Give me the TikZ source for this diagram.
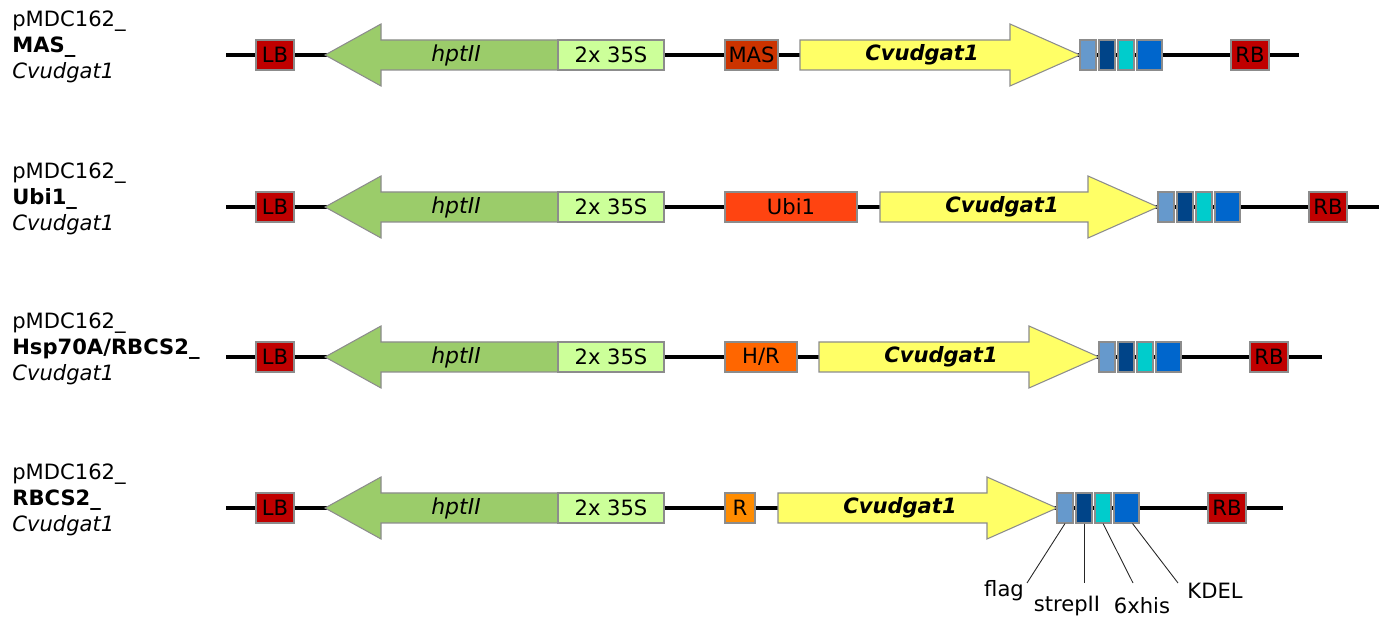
\documentclass[tikz,border=0pt]{standalone}
\usepackage{fontspec}
\setmainfont{DejaVu Sans}

\definecolor{bordergray}{HTML}{8C8C8C}
\definecolor{lbred}{HTML}{C00000}
\definecolor{hptgreen}{HTML}{9BCC6A}
\definecolor{promgreen}{HTML}{CCFF99}
\definecolor{masred}{HTML}{CC3300}
\definecolor{ubired}{HTML}{FF4411}
\definecolor{hrorange}{HTML}{FF6600}
\definecolor{rorange}{HTML}{FF8C00}
\definecolor{geneyellow}{HTML}{FFFF66}
\definecolor{flagblue}{HTML}{6699CC}
\definecolor{strepblue}{HTML}{004488}
\definecolor{hiscyan}{HTML}{00CCCC}
\definecolor{kdelblue}{HTML}{0066CC}

\begin{document}
\begin{tikzpicture}[x=0.02cm, y=-0.02cm, font=\fontsize{12}{14.7}\selectfont,
    part/.style={draw=bordergray, line width=0.6pt, inner sep=0pt, minimum height=30*0.02cm, font=\fontsize{12}{12}\selectfont},
    tagbox/.style={draw=bordergray, line width=0.6pt, inner sep=0pt, minimum height=30*0.02cm, minimum width=16*0.02cm},
    genearrow/.style={draw=bordergray, line width=0.6pt},
    backbone/.style={line width=1.9pt},
    leader/.style={line width=0.5pt, draw=black!85}]
    \useasboundingbox (0,0) rectangle (1379,617);
    \foreach \y/\r/\lend/\pend/\ptxt/\pcol/\gs/\tip/\mid in {
        55/a/1299/778/MAS/masred/800/1080/MAS,
        207/b/1379/857/Ubi1/ubired/880/1158/Ubi1,
        357/c/1322/797/{H/R}/hrorange/819/1099/{Hsp70A/RBCS2},
        508/d/1283/755/R/rorange/778/1057/RBCS2}{
        \coordinate (start\r) at (226,\y);
        \coordinate (end\r) at (\lend,\y);
        \draw[backbone] (start\r) -- (end\r);
        \node[anchor=west, align=left, inner sep=0pt] (name\r) at (12,\y-8) {pMDC162\_\\\textbf{\mid\_}\\\textit{Cvudgat1}};
        \node[part, fill=lbred, minimum width=38*0.02cm] (lb\r) at (275,\y) {LB};
        % hptII points to the left
        \filldraw[genearrow, fill=hptgreen] (325,\y) -- (381,\y-31) -- (381,\y-15) -- (558,\y-15) -- (558,\y+15) -- (381,\y+15) -- (381,\y+31) -- cycle;
        \node[font=\itshape\fontsize{12.5}{13}\selectfont] (hpt\r) at (456,\y) {hptII};
        \node[part, fill=promgreen, minimum width=106*0.02cm] (ss\r) at (611,\y) {2x 35S};
        \node[part, fill=\pcol, minimum width={(\pend-725)*0.02cm}] (prom\r) at ({(725+\pend)/2},\y) {\ptxt};
        % gene
        \filldraw[genearrow, fill=geneyellow] (\gs,\y-15) -- (\tip-70,\y-15) -- (\tip-70,\y-31) -- (\tip,\y) -- (\tip-70,\y+31) -- (\tip-70,\y+15) -- (\gs,\y+15) -- cycle;
        \node[font=\bfseries\itshape\fontsize{12}{13}\selectfont] (gene\r) at (\gs+122,\y) {Cvudgat1};
        \node[tagbox, fill=flagblue] (flag\r) at (\tip+8,\y) {};
        \node[tagbox, fill=strepblue] (strep\r) at (\tip+27,\y) {};
        \node[tagbox, fill=hiscyan] (his\r) at (\tip+46,\y) {};
        \node[tagbox, fill=kdelblue, minimum width=25*0.02cm] (kdel\r) at (\tip+69.5,\y) {};
        \node[part, fill=lbred, minimum width=38*0.02cm] (rb\r) at (\tip+170,\y) {RB};
    }
    % tag labels, last construct only
    \coordinate (flagend) at (1027,583);
    \coordinate (strepend) at (1084,583);
    \coordinate (hisend) at (1133,583);
    \coordinate (kdelend) at (1178,583);
    \draw[leader] (flagd.south) -- (flagend);
    \draw[leader] (strepd.south) -- (strepend);
    \draw[leader] (hisd.south) -- (hisend);
    \draw[leader] ([xshift=6*0.02cm]kdeld.south) -- (kdelend);
    \node (flaglbl) at (1004,591) {flag};
    \node (streplbl) at (1067,606) {strepII};
    \node (hislbl) at (1142,606) {6xhis};
    \node (kdellbl) at (1215,591) {KDEL};
\end{tikzpicture}
\end{document}
